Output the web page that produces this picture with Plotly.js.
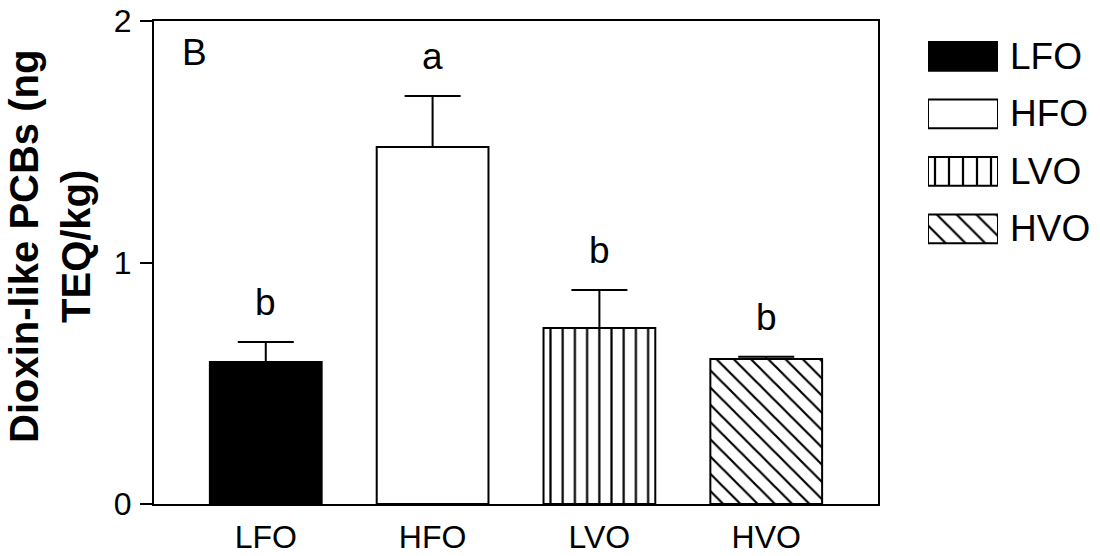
<!DOCTYPE html>
<html>
<head>
<meta charset="utf-8">
<script src="https://cdn.plot.ly/plotly-3.0.1.min.js"></script>
<style>
  html, body { margin: 0; padding: 0; background: #fff; }
  #chart { width: 1100px; height: 556px; }
</style>
</head>
<body>
<div id="chart"></div>
<script>
// ---- data ----
const categories = ["LFO", "HFO", "LVO", "HVO"];
const means = [0.588, 1.478, 0.729, 0.600];
const errors = [0.083, 0.211, 0.157, 0.010];
const letters = ["b", "a", "b", "b"];
const yTicks = [0, 1, 2];
const panelLabel = "B";
const yTitle = "Dioxin-like PCBs (ng<br>TEQ/kg)";

// ---- styles ----
const FONT = '"Liberation Sans", Arial, Helvetica, sans-serif';
const fills = ["black", "white", "white", "white"];
const shapes = ["", "", "|", "\\"];

const mainTraces = categories.map((c, i) => ({
  type: "bar",
  x: [c],
  y: [means[i]],
  xaxis: "x", yaxis: "y",
  width: 0.67,
  cliponaxis: false,
  marker: {
    color: fills[i],
    line: { color: "black", width: 2 },
    pattern: { shape: shapes[i], fgcolor: "black", bgcolor: "white", size: 12.2, solidity: 0.18, fillmode: "replace" }
  },
  error_y: {
    type: "data", symmetric: false, array: [errors[i]], arrayminus: [0],
    color: "black", thickness: 2, width: 28
  },
  showlegend: false,
  hoverinfo: "skip"
}));

// legend samples drawn as horizontal bars on a small side axis
const legendTraces = categories.map((c, i) => ({
  type: "bar",
  orientation: "h",
  y: [c],
  x: [1],
  xaxis: "x2", yaxis: "y2",
  width: 0.5,
  cliponaxis: false,
  marker: {
    color: fills[i],
    line: { color: "black", width: 2 },
    pattern: { shape: shapes[i], fgcolor: "black", bgcolor: "white", size: 14, solidity: 0.16, fillmode: "replace" }
  },
  showlegend: false,
  hoverinfo: "skip"
}));

const W = 1100, H = 556;
const px = v => v / W;
const py = v => (H - v) / H;

const annotations = [];
// significance letters
categories.forEach((c, i) => {
  annotations.push({
    xref: "x", yref: "y", x: c, y: means[i] + errors[i],
    text: letters[i], showarrow: false, yanchor: "bottom", yshift: 17,
    font: { family: FONT, size: 37, color: "black" }
  });
});
// legend labels
categories.forEach((c) => {
  annotations.push({
    xref: "paper", yref: "y2", x: px(1008), y: c,
    text: c, showarrow: false, xanchor: "left", yanchor: "middle",
    font: { family: FONT, size: 37, color: "black" }
  });
});
// panel label
annotations.push({
  xref: "paper", yref: "paper", x: px(180), y: py(30),
  text: panelLabel, showarrow: false, xanchor: "left", yanchor: "top",
  font: { family: FONT, size: 37, color: "black" }
});
// y title
annotations.push({
  xref: "paper", yref: "paper", x: px(50), y: py(247),
  text: yTitle, showarrow: false, xanchor: "center", yanchor: "middle",
  textangle: -90,
  font: { family: FONT, size: 40, color: "black", weight: "bold" }
});

const layout = {
  width: W, height: H,
  margin: { l: 0, r: 0, t: 0, b: 0 },
  paper_bgcolor: "white", plot_bgcolor: "white",
  font: { family: FONT, color: "black" },
  showlegend: false,
  barmode: "overlay",
  xaxis: {
    domain: [px(154), px(878)],
    range: [-0.67, 3.67],
    type: "category",
    categoryorder: "array", categoryarray: categories,
    showline: true, linecolor: "black", linewidth: 2,
    mirror: true, ticks: "", showgrid: false, zeroline: false,
    tickfont: { family: FONT, size: 32, color: "black" },
    ticklabelstandoff: 4,
    fixedrange: true
  },
  yaxis: {
    domain: [py(504), py(21)],
    range: [0, 2],
    tickvals: yTicks, ticktext: yTicks.map(String),
    ticks: "outside", ticklen: 12, tickwidth: 2, tickcolor: "black",
    showline: true, linecolor: "black", linewidth: 2,
    mirror: true, showgrid: false, zeroline: false,
    tickfont: { family: FONT, size: 32, color: "black" },
    ticklabelstandoff: 2,
    fixedrange: true
  },
  xaxis2: {
    domain: [px(928), px(998)], range: [0, 1], anchor: "y2",
    visible: false, fixedrange: true
  },
  yaxis2: {
    domain: [py(257.5), py(27.5)], range: [3.5, -0.5], anchor: "x2",
    type: "category", categoryorder: "array", categoryarray: categories,
    visible: false, fixedrange: true
  },
  annotations: annotations
};

Plotly.newPlot("chart", [...mainTraces, ...legendTraces], layout, { staticPlot: true, displayModeBar: false });
</script>
</body>
</html>
